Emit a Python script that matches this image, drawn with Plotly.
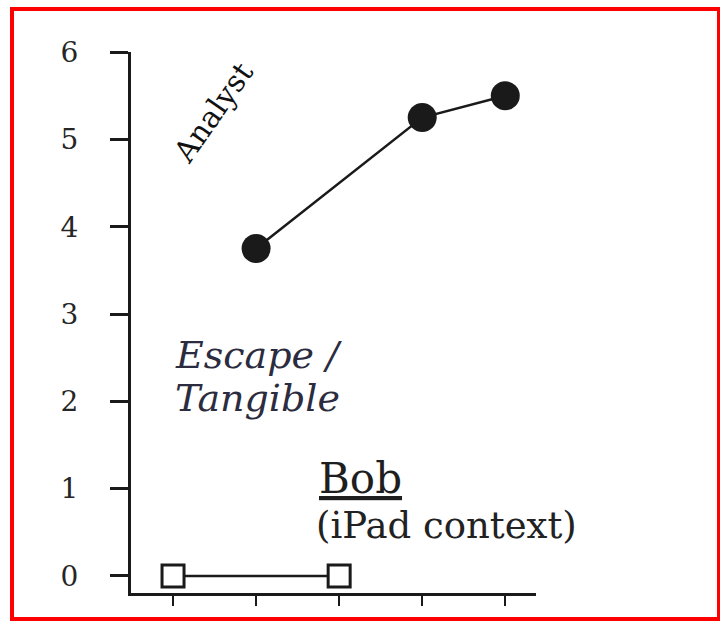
import plotly.graph_objects as go

# Data
sessions = [0, 1, 2, 3, 4]            # five session ticks on x axis
analyst_x = [1, 3, 4]
analyst_y = [3.75, 5.25, 5.5]
bob_x = [0, 2]
bob_y = [0, 0]
y_ticks = [0, 1, 2, 3, 4, 5, 6]

FONT = "DejaVu Serif"
INK = "#1a1a1a"

fig = go.Figure()
fig.add_trace(go.Scatter(
    x=bob_x, y=bob_y, mode="lines+markers",
    line=dict(color=INK, width=2.5),
    marker=dict(symbol="square", size=22, color="white",
                line=dict(color=INK, width=3)),
    cliponaxis=False, showlegend=False))
fig.add_trace(go.Scatter(
    x=analyst_x, y=analyst_y, mode="lines+markers",
    line=dict(color=INK, width=2.5),
    marker=dict(symbol="circle", size=29, color=INK),
    cliponaxis=False, showlegend=False))

fig.update_layout(
    width=720, height=621,
    margin=dict(l=131, r=184, t=52, b=28),
    paper_bgcolor="white", plot_bgcolor="white",
    font=dict(family=FONT, color="#333333"),
    xaxis=dict(range=[-0.506, 4.37], tickvals=sessions, showticklabels=False,
               ticks="outside", ticklen=10, tickwidth=2, tickcolor=INK,
               showline=True, linewidth=3, linecolor=INK,
               showgrid=False, zeroline=False, fixedrange=True),
    yaxis=dict(range=[-0.195, 6.001], tickvals=y_ticks,
               ticks="outside", ticklen=18, tickwidth=2.5, tickcolor=INK,
               ticklabelstandoff=26,
               tickfont=dict(size=28, family=FONT, color="#262626"),
               showline=True, linewidth=3, linecolor=INK,
               showgrid=False, zeroline=False, fixedrange=True),
)

# red frame around the whole figure
fig.add_shape(type="rect", xref="paper", yref="paper",
              x0=-0.2938, x1=1.4519, y0=-0.048, y1=1.0795,
              line=dict(color="#ff0000", width=4), fillcolor="rgba(0,0,0,0)",
              layer="above")

fig.add_annotation(x=0.48, y=5.31, xref="x", yref="y", text="Analyst",
                   textangle=-55, showarrow=False,
                   font=dict(size=30, family=FONT, color="#111111"))
fig.add_annotation(x=0.0, y=2.53, xref="x", yref="y", text="<i>Escape /</i>",
                   xanchor="left", showarrow=False,
                   font=dict(size=38, family=FONT, color="#2c2c40"))
fig.add_annotation(x=0.0, y=2.04, xref="x", yref="y", text="<i>Tangible</i>",
                   xanchor="left", showarrow=False,
                   font=dict(size=38, family=FONT, color="#2c2c40"))
fig.add_annotation(x=1.735, y=1.12, xref="x", yref="y", text="<u>Bob</u>",
                   xanchor="left", showarrow=False,
                   font=dict(size=42, family=FONT, color="#1e1e1e"))
fig.add_annotation(x=1.70, y=0.58, xref="x", yref="y", text="(iPad context)",
                   xanchor="left", showarrow=False,
                   font=dict(size=37, family=FONT, color="#222222"))

fig.write_html("out.html")
